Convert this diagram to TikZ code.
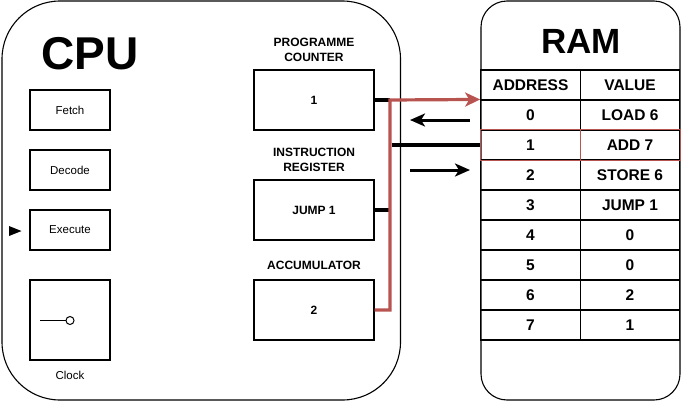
\documentclass[tikz,border=0pt]{standalone}
\usepackage{fontspec}
\setmainfont{Liberation Sans}
\usetikzlibrary{arrows.meta}
\definecolor{redl}{HTML}{B85450}
\begin{document}
\begin{tikzpicture}[x=1pt,y=-1pt,
  box/.style={draw=black, line width=1.1pt, inner sep=0pt, font=\fontsize{11.5}{13}\selectfont},
  reg/.style={box, minimum width=120, minimum height=60, font=\fontsize{12}{14}\selectfont\bfseries},
  cell/.style={draw=black, line width=1.1pt, inner sep=0pt, minimum width=99.5, minimum height=30, font=\fontsize{15.5}{17}\selectfont\bfseries},
  lbl/.style={inner sep=0pt, align=center, font=\fontsize{12}{14.5}\selectfont\bfseries},
  thick3/.style={line width=3.2pt},
  arr/.style={line width=3pt, -{Stealth[length=15pt,width=13pt,inset=4pt]}}
]
\useasboundingbox (0,0) rectangle (681,402);
% containers
\draw[line width=1.1pt, rounded corners=58] (2,1) rectangle (400.5,400);
\draw[line width=1.1pt, rounded corners=26] (481,1) rectangle (680,400);
\node[inner sep=0pt, font=\fontsize{46}{52}\selectfont\bfseries] (cpu) at (90,53.5) {CPU};
\node[inner sep=0pt, font=\fontsize{35}{40}\selectfont\bfseries] (ram) at (581,41) {RAM};
% stages
\node[box, minimum width=80, minimum height=40] (fetch) at (70,110) {Fetch};
\node[box, minimum width=80, minimum height=40] (decode) at (70,170) {Decode};
\node[box, minimum width=80, minimum height=40] (exec) at (70,230) {Execute};
\node[box, minimum width=80, minimum height=80] (clock) at (70,320) {};
\node[inner sep=0pt, font=\fontsize{11.5}{13}\selectfont] (clocklbl) at (70,375) {Clock};
\draw[line width=1pt] (40,320.5) -- (66,320.5);
\draw[line width=1pt, fill=white] (70,320.5) circle (4);
\fill (9,226) -- (21.5,231) -- (9,236) -- cycle;
% registers
\node[reg] (pc) at (314,100) {1};
\node[reg] (ir) at (314,210) {JUMP 1};
\node[reg] (acc) at (314,310) {2};
\node[lbl] (pclbl) at (314,50) {PROGRAMME\\COUNTER};
\node[lbl] (irlbl) at (314,160) {INSTRUCTION\\REGISTER};
\node[lbl] (acclbl) at (314,265) {ACCUMULATOR};
% table
\node[cell] (h1) at (530.5,85) {ADDRESS};
\node[cell] (h2) at (630,85) {VALUE};
\foreach \i/\v in {0/LOAD 6,1/ADD 7,2/STORE 6,3/JUMP 1,4/0,5/0,6/2,7/1}{
  \node[cell] (a\i) at (530.5,{115+30*\i}) {\i};
  \node[cell] (v\i) at (630,{115+30*\i}) {\v};
}
\draw[redl, line width=1.1pt] (a1.north west) rectangle (v1.south east);
\draw[redl, line width=1.1pt] (a1.north east) -- (a1.south east);
% bus
\coordinate (bt) at (390,100);
\coordinate (bm) at (390,210);
\coordinate (bb) at (390,310);
\coordinate (bj) at (391.5,145);
\draw[thick3] (pc.east) -- (bt);
\draw[thick3] (ir.east) -- (bm);
\draw[redl, line width=3.2pt, -{Stealth[length=15pt,width=14pt,inset=4pt]}] (acc.east) -- (bb) -- (bt) -- (a0.north west);
\draw[thick3] (bj) -- (a1.west);
% arrows
\coordinate (l1) at (470,120);
\coordinate (l2) at (410,120);
\coordinate (r1) at (410,170);
\coordinate (r2) at (470,170);
\draw[arr] (l1) -- (l2);
\draw[arr] (r1) -- (r2);
\end{tikzpicture}
\end{document}
